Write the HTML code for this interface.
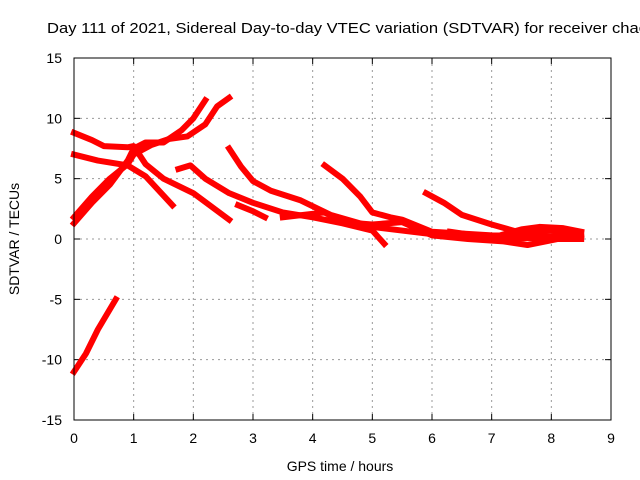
<!DOCTYPE html>
<html><head><meta charset="utf-8"><style>
body{margin:0;background:#fff;overflow:hidden}
svg{display:block;font-family:"Liberation Sans",sans-serif;font-size:14px}
</style></head><body>
<svg id="c" width="640" height="480">
<text x="47" y="33" font-size="15" textLength="600" lengthAdjust="spacingAndGlyphs">Day 111 of 2021, Sidereal Day-to-day VTEC variation (SDTVAR) for receiver chac</text>
<g id="grid"></g><g id="ticks"></g><g id="series"></g>
<rect x="74" y="58" width="537" height="362" fill="none" stroke="#000" stroke-width="1"/>
<text x="340" y="471" text-anchor="middle">GPS time / hours</text>
<text transform="translate(19,239) rotate(-90)" text-anchor="middle">SDTVAR / TECUs</text>
</svg>
<script>
const xTicks=[0,1,2,3,4,5,6,7,8,9];
const yTicks=[-15,-10,-5,0,5,10,15];
const sA=[[0,1.3],[0.3,3],[0.6,4.5],[0.9,6.5],[1.0,7.5],[1.2,8],[1.5,8],[1.8,9],[2.0,10],[2.2,11.5]];
const sB=[[0,1.8],[0.3,3.5],[0.6,5],[0.9,6.2],[1.0,7],[1.3,7.8],[1.6,8.3],[1.9,8.5],[2.2,9.5],[2.4,11],[2.6,11.7]];
const sC=[[0,8.8],[0.3,8.2],[0.5,7.7],[0.9,7.6],[1.0,7.7],[1.2,6.2],[1.5,5.0],[2.0,3.8],[2.6,1.6]];
const sD=[[0,7],[0.4,6.5],[0.9,6.1],[1.2,5.2],[1.65,2.8]];
const sE=[[1.75,5.8],[1.95,6.1],[2.2,5],[2.6,3.8],[3,3],[3.5,2.2],[4,1.8],[4.5,1.3],[5,0.7],[5.2,-0.4]];
const sF=[[2.6,7.5],[2.8,6],[3.0,4.8],[3.3,4],[3.8,3.2],[4.3,2.0],[5,1.0],[6,0.4],[7,0],[8,0.1],[8.5,0.3]];
const sG=[[4.2,6.1],[4.5,5],[4.8,3.5],[5.0,2.2],[5.3,1.8],[5.5,1.6],[6,0.6],[7,0.3],[8,0.2],[8.5,0.4]];
const sH=[[5.9,3.8],[6.2,3],[6.5,2],[7,1.2],[7.5,0.5],[8,0.7],[8.5,0.5]];
const sI=[[2.75,2.8],[3,2.3],[3.2,1.8]];
const sJ=[[3.5,1.8],[4.2,2.2],[4.5,1.4],[5,1.2],[5.5,1.4],[6,0.3],[6.6,0],[7.2,-0.2],[7.6,-0.5],[8.1,0],[8.5,0]];
const sL=[[6.3,0.6],[7,0.1],[7.5,0.8],[7.8,1.0],[8.2,0.9],[8.5,0.6]];
const sK=[[0,-11],[0.2,-9.5],[0.4,-7.5],[0.7,-5]];
const allSeries=[sA,sB,sC,sD,sE,sF,sG,sH,sI,sJ,sL,sK];
const X=h=>74+h*537/9, Y=v=>239-v*362/30;
const NS="http://www.w3.org/2000/svg";
const mk=(t,a,p)=>{const e=document.createElementNS(NS,t);for(const k in a)e.setAttribute(k,a[k]);p.appendChild(e);return e;};
const G=document.getElementById('grid'),T=document.getElementById('ticks'),S=document.getElementById('series');
xTicks.forEach(v=>{
 if(v>0&&v<9){const l=mk('line',{x1:X(v),x2:X(v),y1:58,y2:420,stroke:'#999','stroke-dasharray':'2,4'},G);
 
 }
 mk('line',{x1:X(v),x2:X(v),y1:420,y2:414,stroke:'#000'},T);
 mk('line',{x1:X(v),x2:X(v),y1:58,y2:64,stroke:'#000'},T);
 const t=mk('text',{x:X(v),y:443,'text-anchor':'middle'},T);t.textContent=v;
 
 
});
yTicks.forEach(v=>{
 if(v>-15&&v<15){const l=mk('line',{x1:74,x2:611,y1:Y(v),y2:Y(v),stroke:'#999','stroke-dasharray':'2,4'},G);
 
 }
 mk('line',{x1:74,x2:80,y1:Y(v),y2:Y(v),stroke:'#000'},T);
 mk('line',{x1:611,x2:605,y1:Y(v),y2:Y(v),stroke:'#000'},T);
 const t=mk('text',{x:62,y:Y(v)+5,'text-anchor':'end'},T);t.textContent=v;
 
 
});
allSeries.forEach((s,i)=>{
 const p=mk('polyline',{points:s.map(d=>X(d[0])+','+Y(d[1])).join(' '),fill:'none',stroke:'#f00','stroke-width':6,'stroke-linejoin':'round','stroke-linecap':'square'},S);
 
 
});
</script>
</body></html>
